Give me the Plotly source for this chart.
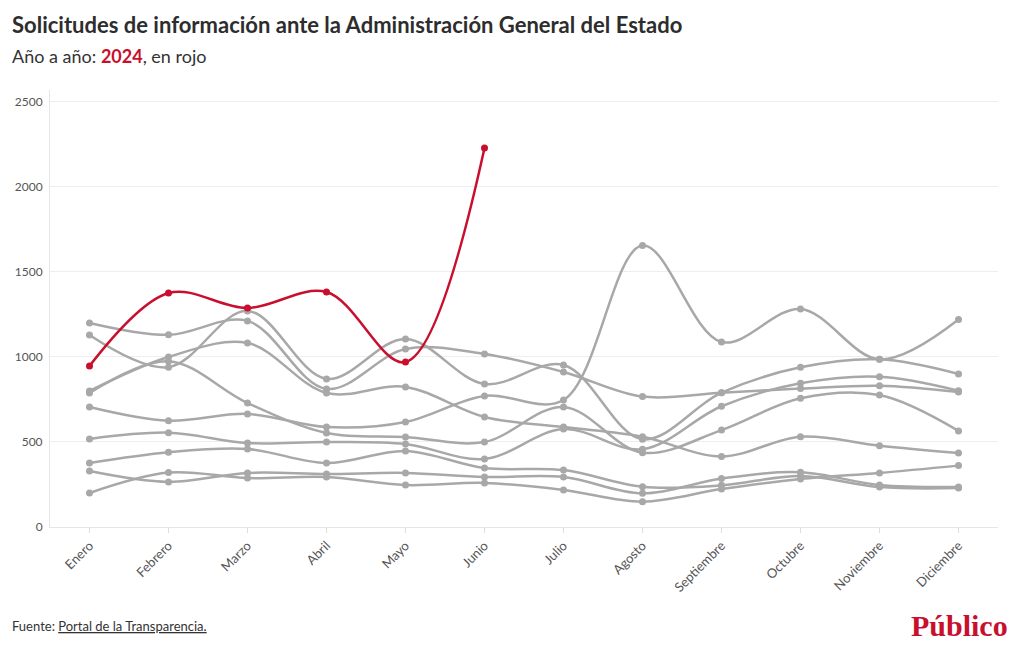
import plotly.graph_objects as go

meses = ["Enero", "Febrero", "Marzo", "Abril", "Mayo", "Junio", "Julio",
         "Agosto", "Septiembre", "Octubre", "Noviembre", "Diciembre"]

# Grey series (previous years)
serie_a = [1200, 1130, 1212, 812, 1047, 1018, 912, 767, 790, 814, 831, 794]
serie_b = [1129, 940, 1271, 871, 1106, 841, 953, 516, 790, 939, 986, 900]
serie_c = [800, 1000, 1082, 788, 824, 647, 588, 531, 415, 531, 478, 435]
serie_d = [788, 975, 729, 553, 529, 500, 706, 437, 570, 757, 776, 565]
serie_e = [706, 625, 665, 588, 618, 771, 747, 1655, 1088, 1282, 986, 1220]
serie_f = [518, 555, 494, 500, 488, 400, 576, 457, 710, 845, 884, 802]
serie_g = [376, 440, 459, 376, 447, 347, 335, 237, 245, 300, 235, 229]
serie_h = [329, 265, 318, 312, 318, 294, 294, 198, 285, 322, 247, 235]
serie_i = [200, 320, 288, 294, 247, 259, 218, 149, 223, 282, 318, 361]

grises = [serie_a, serie_b, serie_c, serie_d, serie_e, serie_f, serie_g, serie_h, serie_i]

# 2024 (red), January to June
valores_2024 = [947, 1376, 1288, 1382, 970, 2229]

y_ticks = [0, 500, 1000, 1500, 2000, 2500]

GRIS = "#a8a8a8"
ROJO = "#c8102e"
TEXTO = "#333333"
FONT = "Lato"

fig = go.Figure()
for s in grises:
    fig.add_trace(go.Scatter(
        x=meses, y=s, mode="lines+markers",
        line=dict(color=GRIS, width=2.5, shape="spline", smoothing=1),
        marker=dict(color=GRIS, size=7),
        showlegend=False, hoverinfo="skip"))

fig.add_trace(go.Scatter(
    x=meses[:len(valores_2024)], y=valores_2024, mode="lines+markers",
    line=dict(color=ROJO, width=2.5, shape="spline", smoothing=1),
    marker=dict(color=ROJO, size=7),
    showlegend=False))

W, H = 1020, 650
ml, mr, mt, mb = 50, 22, 90, 123
ph = H - mt - mb

def py(p):
    return (H - mb - p) / ph

def px(p):
    return (p - ml) / (W - ml - mr)

fig.update_layout(
    width=W, height=H,
    margin=dict(l=ml, r=mr, t=mt, b=mb),
    paper_bgcolor="white", plot_bgcolor="white",
    font=dict(family=FONT, color=TEXTO),
    xaxis=dict(
        type="category", range=[-0.5, 11.5],
        tickangle=-45, tickfont=dict(size=13, color="#555555"),
        ticks="outside", ticklen=5, tickcolor="#dddddd",
        showgrid=False, showline=True, linecolor="#e6e6e6", zeroline=False,
    ),
    yaxis=dict(
        range=[0, 2570], tickvals=y_ticks,
        tickfont=dict(size=12, color="#555555"),
        showgrid=True, gridcolor="#eeeeee", gridwidth=1,
        zeroline=False, showline=True, linecolor="#e6e6e6",
        ticks="", ticklabelstandoff=4,
    ),
    annotations=[
        dict(text="<b>Solicitudes de información ante la Administración General del Estado</b>",
             xref="paper", yref="paper", x=px(10), y=py(24), xanchor="left", yanchor="middle",
             showarrow=False, font=dict(size=22, color="#2d2d2d", family=FONT)),
        dict(text="Año a año: <b><span style='color:%s'>2024</span></b>, en rojo" % ROJO,
             xref="paper", yref="paper", x=px(10), y=py(56), xanchor="left", yanchor="middle",
             showarrow=False, font=dict(size=18, color=TEXTO, family=FONT)),
        dict(text="Fuente: <span style='text-decoration:underline'>Portal de la Transparencia.</span>",
             xref="paper", yref="paper", x=px(10), y=py(626), xanchor="left", yanchor="middle",
             showarrow=False, font=dict(size=13, color=TEXTO, family=FONT)),
        dict(text="<b>Público</b>",
             xref="paper", yref="paper", x=px(1010), y=py(625), xanchor="right", yanchor="middle",
             showarrow=False, font=dict(size=30, color=ROJO, family="Liberation Serif")),
    ],
)

fig.write_html("out.html", config={"displayModeBar": False},
               post_script="document.body.style.margin='0';")
